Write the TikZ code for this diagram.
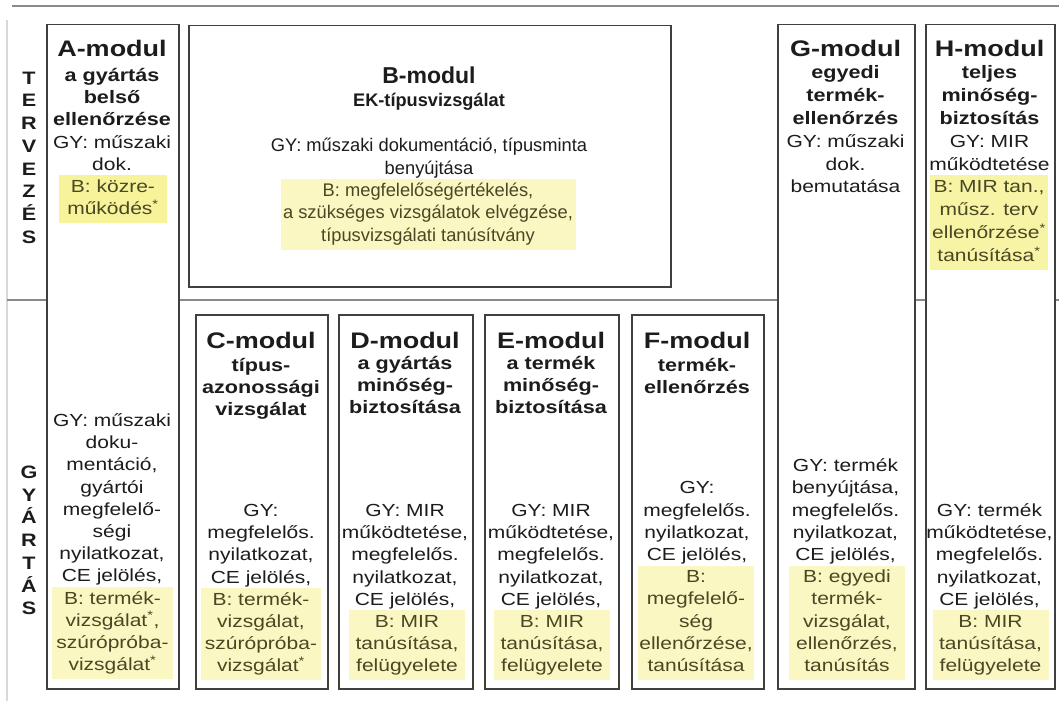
\documentclass[tikz,border=0pt]{standalone}
\usepackage{fontspec}
\setmainfont{Liberation Sans}
\newfontfamily\colfam{Liberation Sans}[FakeStretch=1.2]
\definecolor{boxline}{HTML}{404040}
\definecolor{divline}{HTML}{8A8A8A}
\definecolor{faint}{HTML}{D8D8D8}
\definecolor{hlfill}{HTML}{FAF7C2}
\definecolor{hlstrong}{HTML}{F6F39A}
\definecolor{hltext}{HTML}{4A4824}
\definecolor{txt}{HTML}{1C1C1C}
\newcommand\colfont{\colfam\fontsize{17.5}{22.2}\selectfont}
\newcommand\colfontw{\colfam\fontsize{17.5}{22.9}\selectfont}
\newcommand\sub[1]{{\fontsize{18}{22.2}\selectfont\bfseries #1}}
\newcommand\sta{\textsuperscript{*}}
\tikzset{
  modbox/.style={draw=boxline, line width=1.5pt, inner sep=0pt, anchor=north west},
  divider/.style={draw=divline, line width=1.6pt},
  modtitle/.style={font=\colfam\fontsize{22.5}{26}\selectfont\bfseries, text=txt, anchor=base, inner sep=0pt},
  coltext/.style={font=\colfont, text=txt, align=center, anchor=north, inner sep=0pt},
  coltextw/.style={coltext, font=\colfontw},
  hlbox/.style={coltext, fill=hlfill, text=hltext, inner xsep=0pt, inner ysep=1.5pt},
  sidetext/.style={font=\colfam\fontsize{18}{22.75}\selectfont\bfseries, text=txt, align=center, anchor=north, inner sep=0pt},
  btext/.style={font=\fontsize{18.3}{22.5}\selectfont, text=txt, align=center, anchor=north, inner sep=0pt},
}
\begin{document}
\begin{tikzpicture}[x=1pt,y=-1pt]
\fill[white] (0,0) rectangle (1059,701);
\useasboundingbox (0,0) rectangle (1059,701);

% module boxes
\node[modbox, minimum width=132pt, minimum height=664pt] (A) at (46,24) {};
\node[modbox, minimum width=482pt, minimum height=261pt] (B) at (188,25) {};
\node[modbox, minimum width=132pt, minimum height=374pt] (C) at (195,314) {};
\node[modbox, minimum width=134pt, minimum height=374pt] (D) at (338,314) {};
\node[modbox, minimum width=134pt, minimum height=374pt] (E) at (484,314) {};
\node[modbox, minimum width=132pt, minimum height=374pt] (F) at (631,314) {};
\node[modbox, minimum width=137pt, minimum height=664pt] (G) at (777,24) {};
\node[modbox, minimum width=129pt, minimum height=664pt] (H) at (925,24) {};

% frame lines
\coordinate (topL) at (12,6);
\coordinate (topR) at (1059,6);
\coordinate (midL) at (7,300);
\coordinate (midR) at (1059,300);
\coordinate (sideT) at (7,20);
\coordinate (sideB) at (7,701);
\draw[divider] (topL) -- (topR);
\draw[draw=faint, line width=1.2pt] (sideT) -- (sideB);
\draw[divider] (midL) -- (midL -| A.west);
\draw[divider] (A.east |- midL) -- (G.west |- midL);
\draw[divider] (G.east |- midL) -- (H.west |- midL);
\draw[divider] (H.east |- midL) -- (midR);

% side labels
\node[sidetext] (terv) at (29,71.5) {T\\E\\R\\V\\E\\Z\\É\\S};
\node[sidetext] (gyart) at (29,465.5) {G\\Y\\Á\\R\\T\\Á\\S};

% A-modul
\node[modtitle] (Atitle) at (112,56.5) {A-modul};
\node[coltext] (Atop) at (112,65.7) {\strut\sub{a gyártás}\\\sub{belső}\\\sub{ellenőrzése}\\GY: műszaki\\dok.};
\node[hlbox, fill=hlstrong, minimum width=108pt] (Ahl) at (113,175.2) {\strut B: közre-\\működés\sta\strut};
\node[coltext] (Abot) at (112,410.7) {\strut GY: műszaki\\doku-\\mentáció,\\gyártói\\megfelelő-\\ségi\\nyilatkozat,\\CE jelölés,};
\node[hlbox, minimum width=121pt] (Abhl) at (112.5,586.8) {\strut B: termék-\\vizsgálat\sta,\\szúrópróba-\\vizsgálat\sta\strut};

% B-modul
\node[font=\fontsize{23}{27}\selectfont\bfseries, text=txt, anchor=base, inner sep=0pt] (Btitle) at (429,83.2) {B-modul};
\node[font=\fontsize{18.2}{22}\selectfont\bfseries, text=txt, anchor=base, inner sep=0pt] (Bsub) at (429,106.4) {EK-típusvizsgálat};
\node[btext] (Bgy) at (429,135.7) {\strut GY: műszaki dokumentáció, típusminta\\benyújtása};
\node[btext, fill=hlfill, text=hltext, inner xsep=0pt, inner ysep=1.5pt, minimum width=295pt] (Bhl) at (428,179) {\strut B: megfelelőségértékelés,\\a szükséges vizsgálatok elvégzése,\\típusvizsgálati tanúsítvány\strut};

% C-modul
\node[modtitle] (Ctitle) at (261,348) {C-modul};
\node[coltext] (Csub) at (261,355.7) {\strut\sub{típus-}\\\sub{azonossági}\\\sub{vizsgálat}};
\node[coltext] (Cbot) at (261,500.7) {\strut GY:\\megfelelős.\\nyilatkozat,\\CE jelölés,};
\node[hlbox, minimum width=120pt] (Chl) at (261,588) {\strut B: termék-\\vizsgálat,\\szúrópróba-\\vizsgálat\sta\strut};

% D-modul
\node[modtitle] (Dtitle) at (405,348) {D-modul};
\node[coltext] (Dsub) at (405,353.7) {\strut\sub{a gyártás}\\\sub{minőség-}\\\sub{biztosítása}};
\node[coltext] (Dbot) at (405,500.7) {\strut GY: MIR\\működtetése,\\megfelelős.\\nyilatkozat,\\CE jelölés,};
\node[hlbox, minimum width=116pt] (Dhl) at (407,610.2) {\strut B: MIR\\tanúsítása,\\felügyelete\strut};

% E-modul
\node[modtitle] (Etitle) at (551,348) {E-modul};
\node[coltext] (Esub) at (551,353.7) {\strut\sub{a termék}\\\sub{minőség-}\\\sub{biztosítása}};
\node[coltext] (Ebot) at (551,500.7) {\strut GY: MIR\\működtetése,\\megfelelős.\\nyilatkozat,\\CE jelölés,};
\node[hlbox, minimum width=116pt] (Ehl) at (552,610.2) {\strut B: MIR\\tanúsítása,\\felügyelete\strut};

% F-modul
\node[modtitle] (Ftitle) at (697,348) {F-modul};
\node[coltext] (Fsub) at (697,355.7) {\strut\sub{termék-}\\\sub{ellenőrzés}};
\node[coltext] (Fbot) at (697,478.1) {\strut GY:\\megfelelős.\\nyilatkozat,\\CE jelölés,};
\node[hlbox, minimum width=116pt] (Fhl) at (696,565.4) {\strut B:\\megfelelő-\\ség\\ellenőrzése,\\tanúsítása\strut};

% G-modul
\node[modtitle] (Gtitle) at (845.5,56.5) {G-modul};
\node[coltextw] (Gtop) at (845.5,62.2) {\strut\sub{egyedi}\\\sub{termék-}\\\sub{ellenőrzés}\\GY: műszaki\\dok.\\bemutatása};
\node[coltext] (Gbot) at (845.5,455.9) {\strut GY: termék\\benyújtása,\\megfelelős.\\nyilatkozat,\\CE jelölés,};
\node[hlbox, minimum width=116pt] (Ghl) at (847,565.4) {\strut B: egyedi\\termék-\\vizsgálat,\\ellenőrzés,\\tanúsítás\strut};

% H-modul
\node[modtitle] (Htitle) at (989.5,56.5) {H-modul};
\node[coltextw] (Htop) at (989.5,62.2) {\strut\sub{teljes}\\\sub{minőség-}\\\sub{biztosítás}\\GY: MIR\\működtetése};
\node[hlbox, font=\colfontw, fill=hlstrong!70!hlfill, minimum width=118pt] (Hhl) at (989,175.2) {\strut B: MIR tan.,\\műsz. terv\\ellenőrzése\sta\\tanúsítása\sta\strut};
\node[coltext] (Hbot) at (989.5,500.7) {\strut GY: termék\\működtetése,\\megfelelős.\\nyilatkozat,\\CE jelölés,};
\node[hlbox, minimum width=116pt] (Hhlb) at (990.5,610.2) {\strut B: MIR\\tanúsítása,\\felügyelete\strut};
\end{tikzpicture}
\end{document}
